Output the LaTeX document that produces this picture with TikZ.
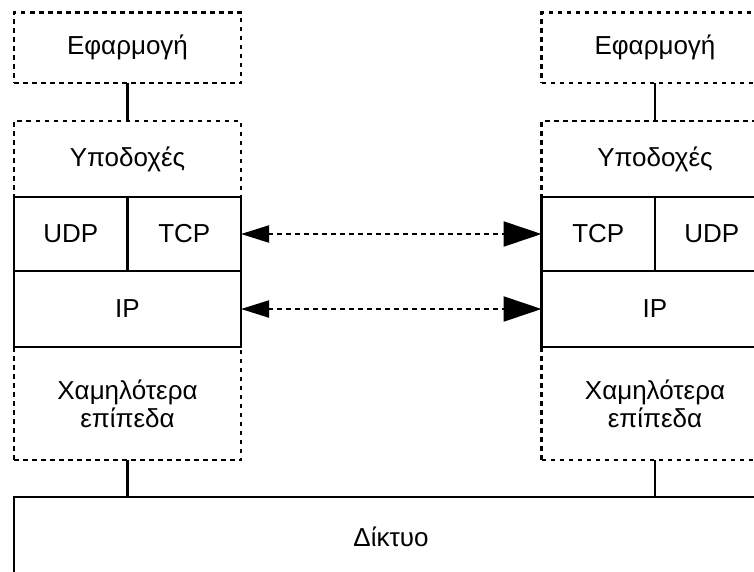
\documentclass[tikz,border=0pt]{standalone}
\usepackage{fontspec}
\setmainfont{Liberation Sans}
\usetikzlibrary{arrows.meta}
\tikzset{
	dashbox/.style={draw,line width=2.2pt,dash pattern=on 4.5pt off 4.5pt},
	solidbox/.style={draw,line width=2.2pt},
	wire/.style={line width=2.2pt},
	peer/.style={line width=2.2pt,dash pattern=on 4.5pt off 4.5pt,
		{Triangle[length=28pt,width=17pt]}-{Triangle[length=38pt,width=25pt]}},
}
\begin{document}
\begin{tikzpicture}[x=1pt,y=-1pt,every node/.style={black,inner sep=0pt,outer sep=0pt,align=center,font=\fontsize{26}{28}\selectfont}]
	\useasboundingbox (0,0) rectangle (754,571);
	\clip (0,0) rectangle (754,571);
%	\coordinate (    ) at (column x , layer y );
	\coordinate (aL) at (127.5, 47.75);
	\coordinate (sL) at (127.5, 159);
	\coordinate (uL) at (70.75, 234);
	\coordinate (tL) at (184.25, 234);
	\coordinate (iL) at (127.5, 309);
	\coordinate (lL) at (127.5, 403.5);
	\coordinate (aR) at (655, 47.75);
	\coordinate (sR) at (655, 159);
	\coordinate (tR) at (598.25, 234);
	\coordinate (uR) at (711.75, 234);
	\coordinate (iR) at (655, 309);
	\coordinate (lR) at (655, 403.5);
	\coordinate (nn) at (391, 537);

	% left host
	\node[dashbox,minimum width=227pt,minimum height=70.5pt] (appL) at (aL) {Εφαρμογή};
	\node[dashbox,minimum width=227pt,minimum height=76pt] (sockL) at (sL) {Υποδοχές};
	\node[solidbox,minimum width=113.5pt,minimum height=74pt] (udpL) at (uL) {UDP};
	\node[solidbox,minimum width=113.5pt,minimum height=74pt] (tcpL) at (tL) {TCP};
	\node[solidbox,minimum width=227pt,minimum height=76pt] (ipL) at (iL) {IP};
	\node[dashbox,minimum width=227pt,minimum height=113pt] (lowL) at (lL) {Χαμηλότερα\\επίπεδα};

	% right host
	\node[dashbox,minimum width=227pt,minimum height=70.5pt] (appR) at (aR) {Εφαρμογή};
	\node[dashbox,minimum width=227pt,minimum height=76pt] (sockR) at (sR) {Υποδοχές};
	\node[solidbox,minimum width=113.5pt,minimum height=74pt] (tcpR) at (tR) {TCP};
	\node[solidbox,minimum width=113.5pt,minimum height=74pt] (udpR) at (uR) {UDP};
	\node[solidbox,minimum width=227pt,minimum height=76pt] (ipR) at (iR) {IP};
	\node[dashbox,minimum width=227pt,minimum height=113pt] (lowR) at (lR) {Χαμηλότερα\\επίπεδα};

	% network
	\node[solidbox,minimum width=754pt,minimum height=80pt] (net) at (nn) {Δίκτυο};

	\draw[wire] (appL.south) -- (sockL.north);
	\draw[wire] (appR.south) -- (sockR.north);
	\draw[wire] (lowL.south) -- (lowL.south |- net.north);
	\draw[wire] (lowR.south) -- (lowR.south |- net.north);

	\draw[peer] (tcpL.east) -- (tcpR.west);
	\draw[peer] (ipL.east) -- (ipR.west);
\end{tikzpicture}
\end{document}
